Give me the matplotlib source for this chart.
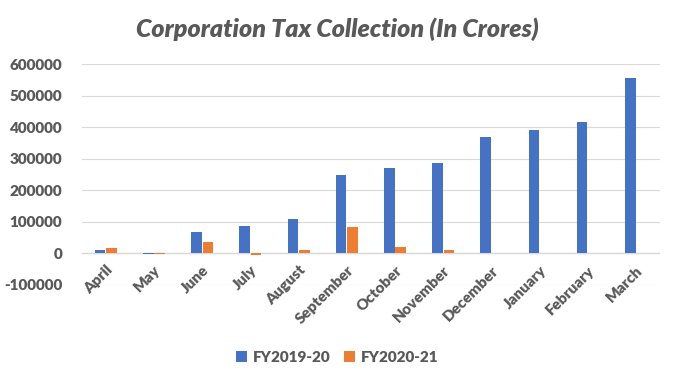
import numpy as np
import matplotlib.pyplot as plt
from matplotlib.ticker import FuncFormatter
from matplotlib.transforms import blended_transform_factory, offset_copy

plt.rcParams['font.family'] = ['Lato', 'DejaVu Sans']

months = ['April', 'May', 'June', 'July', 'August', 'September', 'October',
          'November', 'December', 'January', 'February', 'March']
fy2019_20 = [11000, -1000, 68000, 87000, 110000, 249000, 272000, 288000,
             370000, 392000, 418000, 558000]
fy2020_21 = [17000, -3000, 37000, -4000, 11000, 84000, 20000, 11000,
             0, 0, 0, 0]

c_blue = '#4472C4'
c_orange = '#ED7D31'
c_text = '#595959'
c_grid = '#D9D9D9'
wt = 800

fig = plt.figure(figsize=(6.75, 3.86), dpi=100)
ax = fig.add_axes([0.121, 0.262, 0.857, 0.571])

x = np.arange(len(months))
w = 0.22
ax.bar(x - 0.12, fy2019_20, width=w, color=c_blue, label='FY2019-20', zorder=3)
ax.bar(x + 0.12, fy2020_21, width=w, color=c_orange, label='FY2020-21', zorder=3)

ax.set_xlim(-0.5, len(months) - 0.5)
ax.set_ylim(-100000, 600000)
ax.set_yticks(range(-100000, 600001, 100000))
ax.yaxis.set_major_formatter(FuncFormatter(lambda v, p: f"{int(v)}"))
ax.grid(axis='y', color=c_grid, linewidth=0.8, zorder=0)
ax.axhline(0, color=c_grid, linewidth=1, zorder=2)
for s in ax.spines.values():
    s.set_visible(False)
ax.tick_params(axis='y', length=0, colors=c_text, labelsize=11, pad=14)
for lbl in ax.get_yticklabels():
    lbl.set_fontweight(wt)

# category labels sit just under the zero line, like Excel does
ax.set_xticks([])
trans = offset_copy(blended_transform_factory(ax.transData, ax.transData),
                    fig=fig, x=0, y=-10, units='dots')
for xi, m in zip(x, months):
    ax.text(xi, 0, m, transform=trans, rotation=45, ha='right', va='top',
            rotation_mode='anchor', fontweight=wt, color=c_text, fontsize=11)

fig.text(0.5, 0.925, 'Corporation Tax Collection (In Crores)', ha='center', va='center',
         fontsize=18, fontweight=wt, fontstyle='italic', color=c_text)

fig.legend(loc='center', bbox_to_anchor=(0.5, 0.075), ncol=2, frameon=False,
           handlelength=0.7, handleheight=0.7, columnspacing=0.9, handletextpad=0.4,
           prop={'weight': wt, 'size': 11}, labelcolor=c_text)

fig.savefig('out.png', dpi=100)
